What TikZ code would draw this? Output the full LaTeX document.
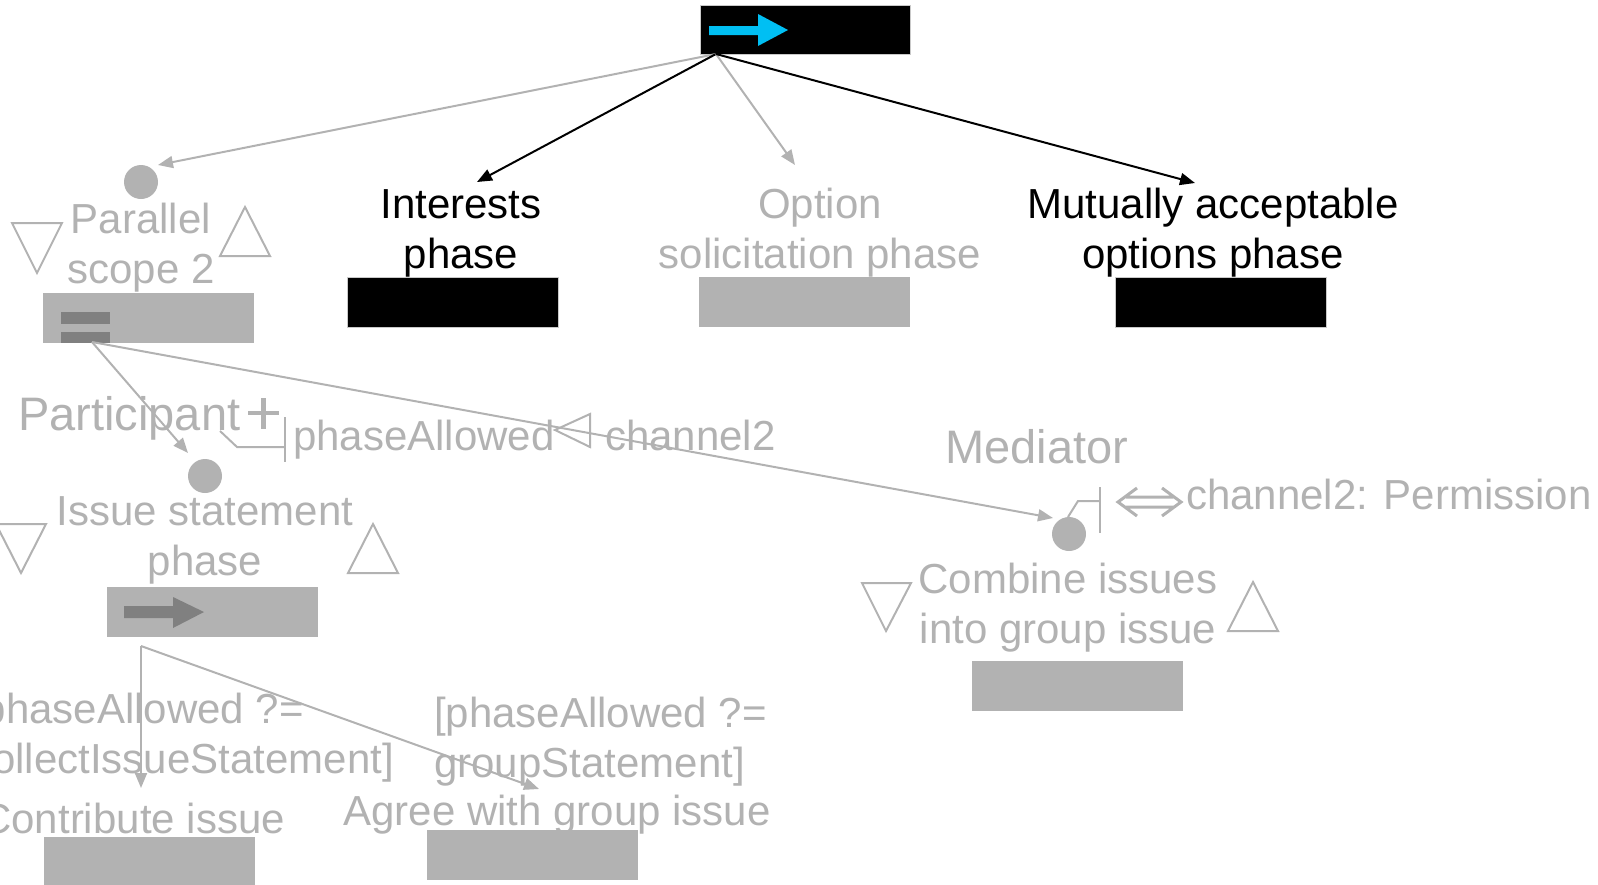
\documentclass[tikz,border=0pt]{standalone}
\usepackage{fontspec}
\setmainfont{Liberation Sans}
\usetikzlibrary{arrows.meta}
\definecolor{lgrey}{RGB}{178,178,178}
\definecolor{dgrey}{RGB}{128,128,128}
\definecolor{skyc}{RGB}{0,191,243}
\newcommand\txtsz{\fontsize{42}{50}\selectfont}
\newcommand\rolesz{\fontsize{47}{54}\selectfont}
\tikzset{
  gtxt/.style={text=lgrey, font=\txtsz, inner sep=0pt, align=center},
  btxt/.style={text=black, font=\txtsz, inner sep=0pt, align=center},
  ltxt/.style={text=lgrey, font=\txtsz, inner sep=0pt, align=left},
  roletxt/.style={text=lgrey, font=\rolesz, inner sep=0pt},
  actbox/.style={rectangle, minimum width=211pt, minimum height=50pt, inner sep=0pt, fill=lgrey},
  blackbox/.style={actbox, fill=black, draw=lgrey!70, line width=0.8pt},
  dot/.style={circle, fill=lgrey, minimum size=34pt, inner sep=0pt},
  gline/.style={draw=lgrey, line width=2pt},
  garrow/.style={gline, -{Triangle[length=15pt,width=12pt]}},
  barrow/.style={draw=black, line width=2pt, -{Triangle[length=15pt,width=12pt]}},
  tri/.style={draw=lgrey, line width=2pt, line join=miter},
}
\begin{document}
\begin{tikzpicture}[x=1pt, y=-1pt]
\useasboundingbox (0,0) rectangle (1598,884);
\clip (0,0) rectangle (1598,884);

% start node with its arrow glyph
\node[blackbox, minimum width=210pt, minimum height=49pt] (start) at (805,29.5) {};
\fill[skyc] (709,26) -- (758,26) -- (758,14) -- (788,30) -- (758,46) -- (758,35) -- (709,35) -- cycle;
\coordinate (fork) at (716,54);

% parallel scope (multi-line nodes sit on the baseline of their last line)
\node[dot] (par-c) at (141,182) {};
\node[gtxt, anchor=base] (par-t) at (141,283) {Parallel\\scope 2};
\node[actbox] (par-b) at (148.5,318) {};
\fill[dgrey] (61,312) rectangle (110,324);
\fill[dgrey] (61,332) rectangle (110,343);
\draw[tri] (12,223) -- (62,223) -- (37,273) -- cycle;
\draw[tri] (245,207) -- (220,256) -- (270,256) -- cycle;
\coordinate (par-in) at (158,165);
\coordinate (par-out) at (92,342);

% top row phases
\node[btxt, anchor=base] (int-t) at (461,268) {Interests\\phase};
\node[blackbox] (int-b) at (452.5,302) {};
\coordinate (int-in) at (477,182);

\node[gtxt, anchor=base] (opt-t) at (820,268) {Option\\solicitation phase};
\node[actbox] (opt-b) at (804.5,302) {};
\coordinate (opt-in) at (795,165);

\node[btxt, anchor=base] (mut-t) at (1213,268) {Mutually acceptable\\options phase};
\node[blackbox] (mut-b) at (1221,302) {};
\coordinate (mut-in) at (1195,183);

\draw[garrow] (fork) -- (par-in);
\draw[barrow] (fork) -- (int-in);
\draw[garrow] (fork) -- (opt-in);
\draw[barrow] (fork) -- (mut-in);

% participant role and channel
\node[roletxt, anchor=base west] (part) at (18,430) {Participant};
\draw[draw=lgrey, line width=4.5pt] (248,413) -- (279,413) (263.5,398) -- (263.5,429);
\draw[gline] (220,431) -- (237,447) -- (285,447);
\draw[gline] (285,417) -- (285,462);
\node[gtxt, anchor=base west] (pa) at (293,450) {phaseAllowed};
\draw[tri] (555,430) -- (590,414) -- (590,447) -- cycle;
\node[gtxt, anchor=base west] (ch) at (605,450) {channel2};

% issue statement phase
\node[dot] (iss-c) at (205,476) {};
\node[gtxt, anchor=base] (iss-t) at (205,575) {Issue statement\\phase};
\node[actbox] (iss-b) at (212.5,612) {};
\fill[dgrey] (124,606) -- (173,606) -- (173,597) -- (204,612) -- (173,628) -- (173,618) -- (124,618) -- cycle;
\draw[tri] (-4,524) -- (46,524) -- (21,573) -- cycle;
\draw[tri] (373,524) -- (348,573) -- (398,573) -- cycle;
\coordinate (iss-in) at (188,453);
\coordinate (iss-out) at (141,646);

% mediator role and combine step
\node[roletxt, anchor=base] (med) at (1037,463) {Mediator};
\node[dot] (med-c) at (1069,534) {};
\draw[gline] (1068,517) -- (1078,501) -- (1100,501);
\draw[gline] (1100,487) -- (1100,533);
\draw[draw=lgrey, line width=3pt, line join=miter]
  (1137,488) -- (1118,502) -- (1137,516)
  (1162,488) -- (1181,502) -- (1162,516)
  (1126,497) -- (1173,497) (1126,507) -- (1173,507);
\node[gtxt, anchor=base west] (perm) at (1186,509) {channel2: Permission};
\node[gtxt, anchor=base] (cmb-t) at (1068,643) {Combine issues\\into group issue};
\node[actbox] (cmb-b) at (1077,686) {};
\draw[tri] (862,583) -- (911,583) -- (886,631) -- cycle;
\draw[tri] (1253,582) -- (1228,631) -- (1278,631) -- cycle;
\coordinate (med-in) at (1053,518);

\draw[garrow] (par-out) -- (iss-in);
\draw[garrow] (par-out) -- (med-in);

% branch steps with guards
\node[ltxt, anchor=base west] (g1) at (-29,773) {[phaseAllowed ?=\\collectIssueStatement]};
\node[ltxt, anchor=base west] (g2) at (434,777) {[phaseAllowed ?=\\groupStatement]};
\node[gtxt, anchor=base east] (con-t) at (285,833) {Contribute issue};
\node[actbox] (con-b) at (149,862) {};
\node[gtxt, anchor=base] (agr-t) at (557,825) {Agree with group issue};
\node[actbox] (agr-b) at (532.5,855) {};
\coordinate (con-in) at (141,788);
\coordinate (agr-in) at (539,789);

\draw[garrow] (iss-out) -- (con-in);
\draw[garrow] (iss-out) -- (agr-in);
\end{tikzpicture}
\end{document}
